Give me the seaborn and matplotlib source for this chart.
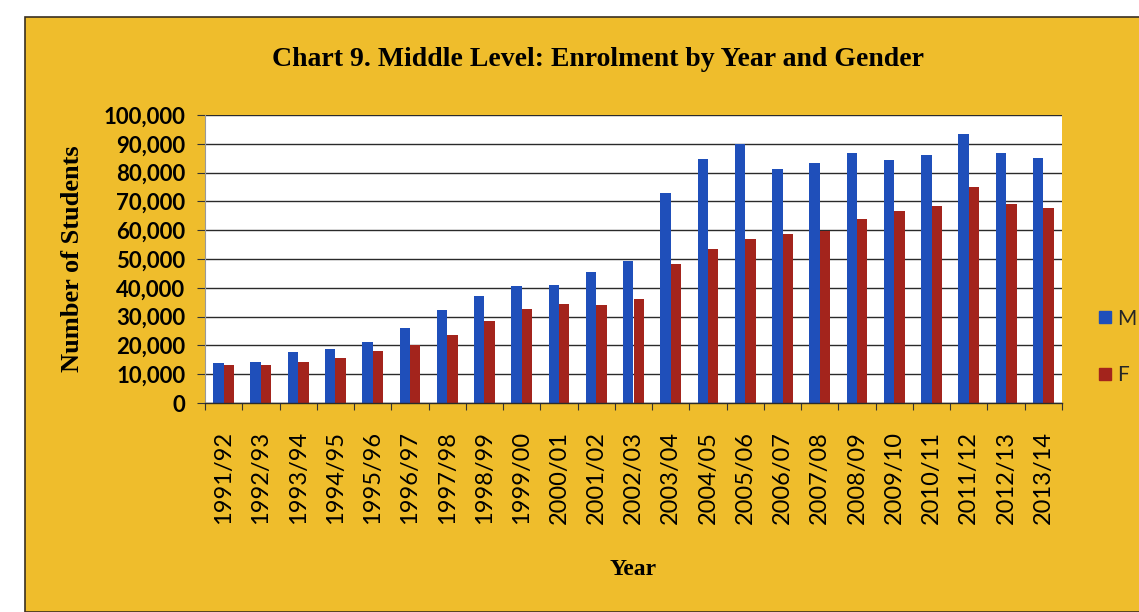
import matplotlib
matplotlib.use("Agg")
import matplotlib.pyplot as plt
from matplotlib.patches import Rectangle
from matplotlib.ticker import FuncFormatter, FixedLocator
import seaborn as sns
import pandas as pd
import numpy as np

years = ["1991/92", "1992/93", "1993/94", "1994/95", "1995/96", "1996/97",
         "1997/98", "1998/99", "1999/00", "2000/01", "2001/02", "2002/03",
         "2003/04", "2004/05", "2005/06", "2006/07", "2007/08", "2008/09",
         "2009/10", "2010/11", "2011/12", "2012/13", "2013/14"]
male = [13900, 14400, 17700, 18600, 21200, 26100, 32300, 37000, 40500, 40800,
        45400, 49400, 73000, 84600, 89900, 81400, 83400, 86800, 84400, 86100,
        93400, 86800, 85100]
female = [13100, 13100, 14400, 15500, 17900, 20100, 23500, 28600, 32800, 34300,
          33900, 36200, 48100, 53300, 56800, 58800, 59800, 63800, 66700, 68300,
          74900, 69100, 67800]
genders = ["M", "F"]
yticks = list(range(0, 100001, 10000))

df = pd.DataFrame({
    "Year": years * 2,
    "Students": male + female,
    "Gender": ["M"] * len(years) + ["F"] * len(years),
})

BG = "#EFBD2C"
BLUE = "#1F4FBA"
RED = "#A3241C"

sns.set_theme(style="white")
fig = plt.figure(figsize=(11.39, 6.12), dpi=100, facecolor="white")
bgrect = Rectangle((25 / 1139, 0), 1, (612 - 17) / 612,
                   transform=fig.transFigure, facecolor=BG,
                   edgecolor="#3a3020", linewidth=1.2, zorder=-10)
fig.add_artist(bgrect)

ax = fig.add_axes([205 / 1139, 1 - 403 / 612, (1062 - 205) / 1139, (403 - 115) / 612])
ax.set_zorder(1)
ax.set_facecolor("white")
sns.barplot(data=df, x="Year", y="Students", hue="Gender", hue_order=genders,
            palette=[BLUE, RED], width=0.56, gap=0.0, ax=ax, saturation=1,
            edgecolor="none", legend=False)

ax.set_ylim(0, 100000)
ax.set_xlim(-0.5, len(years) - 0.5)
ax.yaxis.set_major_locator(FixedLocator(yticks))
ax.yaxis.set_major_formatter(FuncFormatter(lambda v, p: f"{int(v):,}"))
ax.grid(axis="y", color="#2a2a2a", linewidth=1.0)
ax.set_axisbelow(True)
for s in ["top", "right"]:
    ax.spines[s].set_visible(False)
ax.spines["left"].set_color("#999999")
ax.spines["left"].set_linewidth(0.8)
ax.spines["bottom"].set_color("#2a2a2a")
ax.spines["bottom"].set_linewidth(1.0)

ax.tick_params(axis="y", which="major", length=6, width=0.8, color="#333333",
               direction="out", left=True, pad=8)
for lbl in ax.get_yticklabels():
    lbl.set_fontfamily("Lato")
    lbl.set_fontweight("bold")
    lbl.set_fontsize(16)
    lbl.set_color("black")

ax.set_xticks(range(len(years)))
ax.set_xticklabels(years, rotation=90, fontfamily="Lato", fontsize=17, color="black")
ax.tick_params(axis="x", which="major", length=0, pad=20)
ax.set_xticks(np.arange(-0.5, len(years), 1.0), minor=True)
ax.tick_params(axis="x", which="minor", length=5, width=0.8, color="#333333",
               direction="out", bottom=True)

ax.set_xlabel("Year", fontfamily="Liberation Serif", fontweight="bold",
              fontsize=17, labelpad=25, color="black")
ax.set_ylabel("Number of Students", fontfamily="Liberation Serif",
              fontweight="bold", fontsize=19, labelpad=14, color="black")

fig.text(598 / 1139, 1 - 60 / 612, "Chart 9. Middle Level: Enrolment by Year and Gender",
         ha="center", va="center", fontfamily="Liberation Serif",
         fontweight="bold", fontsize=20, color="black")

handles = [plt.Line2D([], [], marker="s", linestyle="none", markersize=9,
                      markerfacecolor=c, markeredgecolor=c) for c in [BLUE, RED]]
fig.legend(handles, genders, loc="center left",
           bbox_to_anchor=(1086 / 1139, 1 - 347 / 612), frameon=False,
           prop={"family": "Lato", "size": 15}, labelspacing=1.75,
           handletextpad=0.1, handlelength=1.0, borderaxespad=0)

fig.savefig("out.png", dpi=100, facecolor="white")
